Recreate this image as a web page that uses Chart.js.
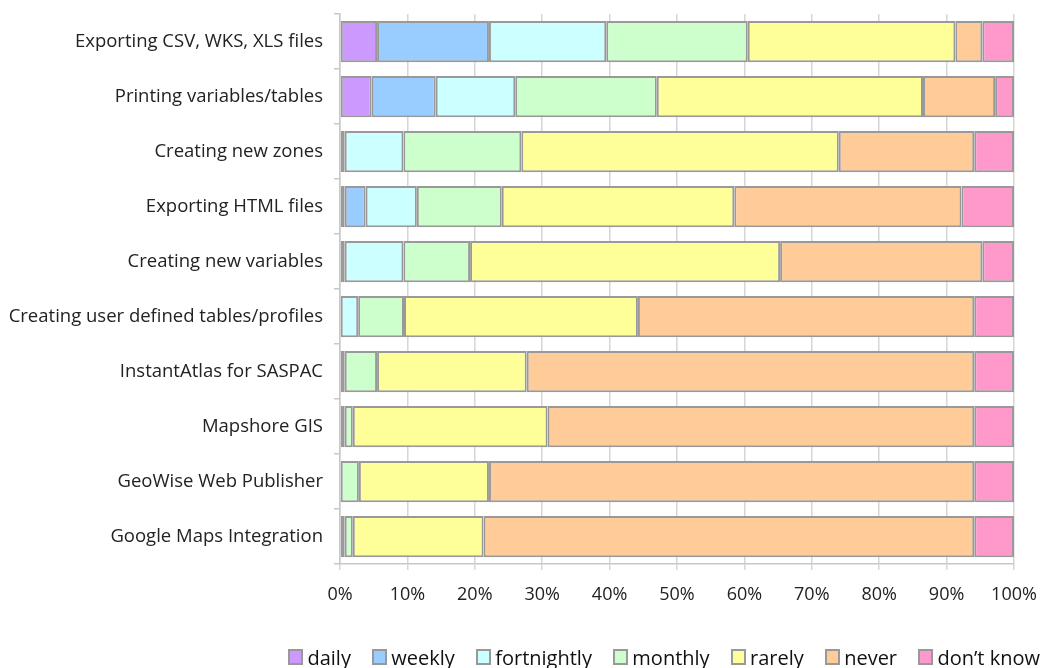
<!DOCTYPE html>
<html>
<head>
<meta charset="utf-8">
<script src="https://cdn.jsdelivr.net/npm/chart.js@4"></script>
<style>
  html, body { margin: 0; padding: 0; background: #fff; overflow: hidden; }
  #wrap { position: relative; width: 1042px; height: 668px; }
  #legend {
    position: absolute; right: 2px; top: 645px; height: 24px;
    display: flex; align-items: center;
    font-family: "Open Sans", "Noto Sans", sans-serif; font-size: 20px; color: #111;
  }
  #legend .item { display: flex; align-items: center; margin-left: 21.4px; white-space: nowrap; }
  #legend .item:first-child { margin-left: 0; }
  #legend .box {
    box-sizing: border-box; width: 15px; height: 16px;
    border: 2px solid #999; margin-right: 4px;
  }
</style>
</head>
<body>
<div id="wrap">
  <canvas id="usageChart"></canvas>
  <div id="legend"></div>
</div>
<script>
const categories = [
  'Exporting CSV, WKS, XLS files',
  'Printing variables/tables',
  'Creating new zones',
  'Exporting HTML files',
  'Creating new variables',
  'Creating user defined tables/profiles',
  'InstantAtlas for SASPAC',
  'Mapshore GIS',
  'GeoWise Web Publisher',
  'Google Maps Integration',
];

// percent of respondents, one value per category (top to bottom)
const daily       = [5.5, 4.7, 0,    0.7,  0,    0,    0,    0.7,  0,    0];
const weekly      = [16.6, 9.5, 0.7, 3.1,  0.7,  0,    0,    0,    0,    0];
const fortnightly = [17.4, 11.8, 8.7, 7.6, 8.7,  2.7,  0.7,  0,    0,    0.7];
const monthly     = [21.0, 21.0, 17.5, 12.6, 9.9, 6.8, 4.8,  1.2,  2.8,  1.2];
const rarely      = [30.8, 39.5, 47.1, 34.5, 46.0, 34.7, 22.2, 28.9, 19.3, 19.4];
const never       = [4.0, 10.7, 20.1, 33.7, 30.0, 49.9, 66.4, 63.3, 72.0, 72.8];
const dontKnow    = [4.7, 2.8,  5.9,  7.8,  4.7,  5.9,  5.9,  5.9,  5.9,  5.9];

const xTicks = [0, 10, 20, 30, 40, 50, 60, 70, 80, 90, 100];

const series = [
  { label: 'daily', data: daily, color: '#cc99ff' },
  { label: 'weekly', data: weekly, color: '#99ccff' },
  { label: 'fortnightly', data: fortnightly, color: '#ccffff' },
  { label: 'monthly', data: monthly, color: '#ccffcc' },
  { label: 'rarely', data: rarely, color: '#ffff99' },
  { label: 'never', data: never, color: '#ffcc99' },
  { label: 'don\u2019t know', data: dontKnow, color: '#ff99cc' },
];

const fontFamily = '"Open Sans", "Noto Sans", sans-serif';

const ctx = document.getElementById('usageChart');

const myChart = new Chart(ctx, {
  type: 'bar',
  data: {
    labels: categories,
    datasets: series.map((s) => ({
      label: s.label,
      data: s.data,
      backgroundColor: s.color,
      borderColor: '#999999',
      borderWidth: 2,
      borderSkipped: false,
      barPercentage: 0.75,
      categoryPercentage: 1,
    })),
  },
  options: {
    indexAxis: 'y',
    responsive: true,
    maintainAspectRatio: false,
    animation: false,
    layout: {
      padding: { top: 14, right: 28, left: 0, bottom: 54 },
    },
    plugins: {
      tooltip: { enabled: false },
      legend: { display: false },
    },
    scales: {
      x: {
        stacked: true,
        min: 0,
        max: 100,
        afterBuildTicks: (scale) => {
          scale.ticks = xTicks.map((v) => ({ value: v }));
        },
        afterFit: (scale) => {
          scale.height = 50;
          scale.paddingLeft = 0;
          scale.paddingRight = 0;
        },
        ticks: {
          color: '#222',
          font: { family: fontFamily, size: 18 },
          padding: 14,
          maxRotation: 0,
          callback: (val) => val + '%',
        },
        grid: {
          color: '#d6d6d6',
          lineWidth: 1.5,
          tickLength: 6,
        },
        border: { color: '#c8c8c8', width: 1.5 },
      },
      y: {
        stacked: true,
        afterFit: (scale) => {
          scale.width = 340;
          scale.paddingTop = 0;
          scale.paddingBottom = 0;
        },
        ticks: {
          color: '#222',
          font: { family: fontFamily, size: 18.5 },
          padding: 11,
        },
        grid: {
          color: '#c8c8c8',
          drawOnChartArea: false,
          tickLength: 6,
          lineWidth: 1.5,
        },
        border: { color: '#c8c8c8', width: 1.5 },
      },
    },
  },
});

// legend built from the same series list
const legendEl = document.getElementById('legend');
series.forEach((s) => {
  const item = document.createElement('span');
  item.className = 'item';
  const box = document.createElement('span');
  box.className = 'box';
  box.style.background = s.color;
  const txt = document.createElement('span');
  txt.textContent = s.label;
  item.appendChild(box);
  item.appendChild(txt);
  legendEl.appendChild(item);
});
</script>
</body>
</html>
